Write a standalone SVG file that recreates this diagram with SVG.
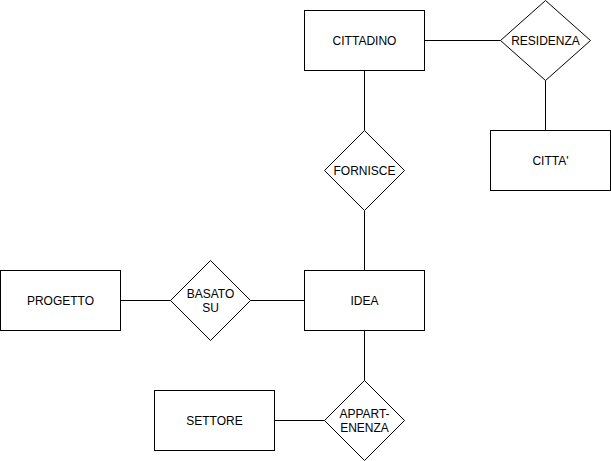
<svg xmlns="http://www.w3.org/2000/svg" width="611" height="461" viewBox="0 0 611 461">
<style>
.s{fill:#fff;stroke:#000;stroke-width:1}
.c{fill:none;stroke:#000;stroke-width:1}
text{font-family:"Liberation Sans",Arial,sans-serif;font-size:12px;fill:#000;text-anchor:middle;dominant-baseline:central}
</style>
<rect width="611" height="461" fill="#fff"/>
<g id="connectors">
<line class="c" x1="424.5" y1="40.5" x2="500.5" y2="40.5"/>
<line class="c" x1="545.5" y1="80.5" x2="545.5" y2="130.5"/>
<line class="c" x1="364.5" y1="70.5" x2="364.5" y2="130.5"/>
<line class="c" x1="364.5" y1="210.5" x2="364.5" y2="270.5"/>
<line class="c" x1="120.5" y1="300.5" x2="170.5" y2="300.5"/>
<line class="c" x1="250.5" y1="300.5" x2="304.5" y2="300.5"/>
<line class="c" x1="364.5" y1="330.5" x2="364.5" y2="380.5"/>
<line class="c" x1="274.5" y1="420.5" x2="324.5" y2="420.5"/>
</g>
<g id="cittadino"><rect class="s" x="304.5" y="10.5" width="120" height="60"/><text x="364.5" y="40.5">CITTADINO</text></g>
<g id="residenza"><polygon class="s" points="545.5,0.5 590.5,40.5 545.5,80.5 500.5,40.5"/><text x="545.5" y="40.5">RESIDENZA</text></g>
<g id="citta"><rect class="s" x="490.5" y="130.5" width="120" height="60"/><text x="550.5" y="160.5">CITTA'</text></g>
<g id="fornisce"><polygon class="s" points="364.5,130.5 404.5,170.5 364.5,210.5 324.5,170.5"/><text x="364.5" y="170.5">FORNISCE</text></g>
<g id="idea"><rect class="s" x="304.5" y="270.5" width="120" height="60"/><text x="364.5" y="300.5">IDEA</text></g>
<g id="basato"><polygon class="s" points="210.5,260.5 250.5,300.5 210.5,340.5 170.5,300.5"/><text x="210.5" y="293.5">BASATO</text><text x="210.5" y="307.5">SU</text></g>
<g id="progetto"><rect class="s" x="0.5" y="270.5" width="120" height="60"/><text x="60.5" y="300.5">PROGETTO</text></g>
<g id="appartenenza"><polygon class="s" points="364.5,380.5 404.5,420.5 364.5,460.5 324.5,420.5"/><text x="364.5" y="413.5">APPART-</text><text x="364.5" y="427.5">ENENZA</text></g>
<g id="settore"><rect class="s" x="154.5" y="390.5" width="120" height="60"/><text x="214.5" y="420.5">SETTORE</text></g>
</svg>
